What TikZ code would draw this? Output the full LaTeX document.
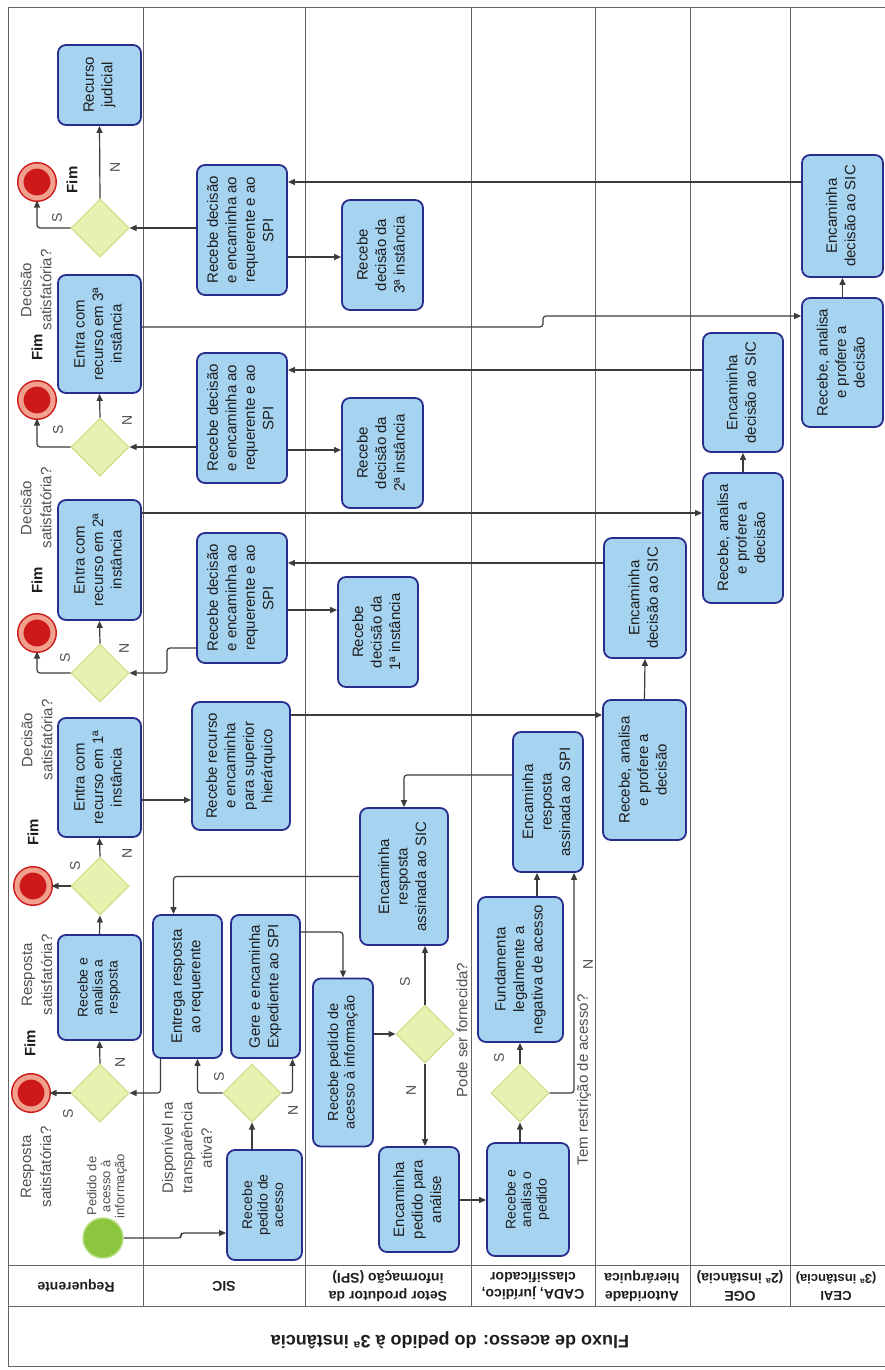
\documentclass[tikz,border=0pt]{standalone}
\usepackage{fontspec}
\setmainfont{Liberation Sans}
\usetikzlibrary{shapes.geometric,arrows.meta}
\definecolor{azulclaro}{RGB}{166,211,240}
\definecolor{azulesc}{RGB}{40,44,140}
\definecolor{amarelo}{RGB}{233,241,176}
\definecolor{amareloesc}{RGB}{205,220,130}
\definecolor{verde}{RGB}{140,198,63}
\definecolor{verdeclaro}{RGB}{185,222,135}
\definecolor{vermelho}{RGB}{205,25,25}
\definecolor{salmao}{RGB}{240,160,140}
\definecolor{cinzalinha}{RGB}{60,60,60}
\definecolor{cinzaraia}{RGB}{100,100,100}
\definecolor{cinzatexto}{RGB}{80,80,80}
\definecolor{preto}{RGB}{30,30,30}

\newcommand{\vtxt}[1]{\rotatebox{90}{\begin{tabular}{@{}c@{}}#1\end{tabular}}}

\tikzset{
  fs/.style 2 args={font=\fontsize{#1}{#2}\selectfont},
  task/.style={draw=azulesc, fill=azulclaro, line width=1.8pt, rounded corners=8pt,
    inner sep=0pt, text=preto, fs={15}{18.5}},
  gw/.style={diamond, aspect=1, minimum width=58pt, minimum height=58pt, inner sep=0pt,
    fill=amarelo, draw=amareloesc, line width=1pt},
  inicio/.style={circle, minimum size=40pt, inner sep=0pt, fill=verde, draw=verdeclaro, line width=1.5pt},
  fim/.style={circle, minimum size=32pt, inner sep=0pt, fill=vermelho, draw=salmao, line width=5pt,
    preaction={draw=vermelho, line width=8pt}},
  fluxo/.style={draw=cinzalinha, line width=1.2pt, rounded corners=3pt, -{Triangle[length=7pt,width=6pt]}},
  raia/.style={draw=cinzaraia, line width=1pt},
  rotulo/.style={rotate=90, align=center, text=cinzatexto, fs={15}{20}},
  sn/.style={rotate=90, text=cinzatexto, fs={14}{16}},
  fimtxt/.style={rotate=90, text=preto, font=\bfseries\fontsize{15}{17}\selectfont},
  raiatxt/.style={rotate=180, align=center, text=preto, font=\bfseries\fontsize{14}{17.5}\selectfont}
}

\begin{document}
\begin{tikzpicture}[x=1pt,y=-1pt]
  \clip (0,0) rectangle (885,1370);
  \fill[white] (0,0) rectangle (885,1370);

  % raias
  \draw[raia] (8,8) rectangle (910,1366);
  \foreach \xr in {143,305,471,595,690,790}
    \draw[raia] (\xr,8) -- (\xr,1306);
  \draw[raia] (8,1265) -- (910,1265);
  \draw[raia] (8,1306) -- (910,1306);

  \node[raiatxt] at (76,1286) {Requerente};
  \node[raiatxt] at (224,1286) {SIC};
  \node[raiatxt] at (388,1286) {Setor produtor da\\informação (SPI)};
  \node[raiatxt] at (533,1286) {CADA, jurídico,\\classificador};
  \node[raiatxt] at (642,1286) {Autoridade\\hierárquica};
  \node[raiatxt] at (740,1286) {OGE\\(2ª instância)};
  \node[raiatxt, font=\bfseries\fontsize{13}{17.5}\selectfont] at (836,1286) {CEAI\\(3ª instância)};
  \node[rotate=180, text=preto, font=\bfseries\fontsize{18}{21}\selectfont] at (450,1340)
    {Fluxo de acesso: do pedido à 3ª instância};

  % Requerente
  \node[inicio] (ini) at (103,1238) {};
  \node[rotulo, fs={13}{14}] at (107,1186) {Pedido de\\acesso à\\informação};

  \node[gw] (d1) at (100,1093) {};
  \node[fim] (e1) at (31,1093) {};
  \node[fimtxt] at (30,1043) {Fim};
  \node[rotulo] at (36,1167) {Resposta\\satisfatória?};
  \node[sn] at (68,1114) {S};
  \node[sn] at (120,1062) {N};
  \node[task, minimum width=83, minimum height=105, fs={14}{15}] (rea) at (99.5,987.5)
    {\vtxt{Recebe e\\analisa a\\resposta}};

  \node[gw] (d2) at (100,886) {};
  \node[fim] (e2) at (33,886) {};
  \node[fimtxt] at (33,832) {Fim};
  \node[rotulo] at (37,975) {Resposta\\satisfatória?};
  \node[sn] at (75,866) {S};
  \node[sn] at (127,853) {N};
  \node[task, minimum width=83, minimum height=119] (e1a) at (99.5,777.5)
    {\vtxt{Entra com\\recurso em 1ª\\instância}};

  \node[gw] (d3) at (100,673) {};
  \node[fim] (e3) at (37,633) {};
  \node[fimtxt] at (37,580) {Fim};
  \node[rotulo] at (37,740) {Decisão\\satisfatória?};
  \node[sn] at (65,658) {S};
  \node[sn] at (124,648) {N};
  \node[task, minimum width=83, minimum height=120] (e2a) at (99.5,560)
    {\vtxt{Entra com\\recurso em 2ª\\instância}};

  \node[gw] (d4) at (100,447) {};
  \node[fim] (e4) at (37,400) {};
  \node[fimtxt] at (37,347) {Fim};
  \node[rotulo] at (36,508) {Decisão\\satisfatória?};
  \node[sn] at (58,430) {S};
  \node[sn] at (127,420) {N};
  \node[task, minimum width=83, minimum height=118] (e3a) at (99.5,334)
    {\vtxt{Entra com\\recurso em 3ª\\instância}};

  \node[gw] (d5) at (100,228) {};
  \node[fim] (e5) at (37,182) {};
  \node[fimtxt] at (72,180) {Fim};
  \node[rotulo] at (36,290) {Decisão\\satisfatória?};
  \node[sn] at (57,218) {S};
  \node[sn] at (115,167) {N};
  \node[task, minimum width=83, minimum height=80] (rj) at (99.5,85)
    {\vtxt{Recurso\\judicial}};

  % SIC
  \node[task, minimum width=75, minimum height=110, fs={14}{15.5}] (rped) at (264.5,1205)
    {\vtxt{Recebe\\pedido de\\acesso}};
  \node[gw] (dsic) at (252,1093) {};
  \node[rotulo, fs={15}{19.5}] at (187,1148) {Disponível na\\transparência\\ativa?};
  \node[sn] at (219,1077) {S};
  \node[sn] at (293,1110) {N};
  \node[task, minimum width=69, minimum height=143] (entr) at (187.5,986.5)
    {\vtxt{Entrega resposta\\ao requerente}};
  \node[task, minimum width=69, minimum height=143] (gere) at (265.5,986.5)
    {\vtxt{Gere e encaminha\\Expediente ao SPI}};
  \node[task, minimum width=98, minimum height=128] (rrec) at (241,766)
    {\vtxt{Recebe recurso\\e encaminha\\para superior\\hierárquico}};
  \node[task, minimum width=90, minimum height=130] (rd1) at (242,598)
    {\vtxt{Recebe decisão\\e encaminha ao\\requerente e ao\\SPI}};
  \node[task, minimum width=90, minimum height=130] (rd2) at (242,418)
    {\vtxt{Recebe decisão\\e encaminha ao\\requerente e ao\\SPI}};
  \node[task, minimum width=90, minimum height=130] (rd3) at (242,230)
    {\vtxt{Recebe decisão\\e encaminha ao\\requerente e ao\\SPI}};

  % SPI
  \node[task, minimum width=60, minimum height=168, fs={14.5}{16.5}] (spi1) at (343,1062.5)
    {\vtxt{Recebe pedido de\\acesso à informação}};
  \node[gw] (dspi) at (425,1034) {};
  \node[rotulo] at (462,1030) {Pode ser fornecida?};
  \node[sn] at (405,982) {S};
  \node[sn] at (411,1090) {N};
  \node[task, minimum width=88, minimum height=137] (spi2) at (404,876.5)
    {\vtxt{Encaminha\\resposta\\assinada ao SIC}};
  \node[task, minimum width=80, minimum height=105] (spi3) at (419,1199.5)
    {\vtxt{Encaminha\\pedido para\\análise}};
  \node[task, minimum width=80, minimum height=110] (sd1) at (378,632)
    {\vtxt{Recebe\\decisão da\\1ª instância}};
  \node[task, minimum width=81, minimum height=110] (sd2) at (382.5,453)
    {\vtxt{Recebe\\decisão da\\2ª instância}};
  \node[task, minimum width=81, minimum height=110] (sd3) at (382.5,255)
    {\vtxt{Recebe\\decisão da\\3ª instância}};

  % CADA
  \node[task, minimum width=82, minimum height=113, fs={14}{15.5}] (cada1) at (528,1199.5)
    {\vtxt{Recebe e\\analisa o\\pedido}};
  \node[gw] (dcada) at (520,1093) {};
  \node[rotulo] at (584,1080) {Tem restrição de acesso?};
  \node[sn] at (499,1058) {S};
  \node[sn] at (588,964) {N};
  \node[task, minimum width=85, minimum height=145] (cada2) at (520.5,969.5)
    {\vtxt{Fundamenta\\legalmente a\\negativa de acesso}};
  \node[task, minimum width=70, minimum height=140] (cada3) at (548,802)
    {\vtxt{Encaminha\\resposta\\assinada ao SPI}};

  % Autoridade, OGE e CEAI
  \node[task, minimum width=83, minimum height=140] (aut1) at (644.5,770)
    {\vtxt{Recebe, analisa\\e profere a\\decisão}};
  \node[task, minimum width=82, minimum height=120] (aut2) at (645,598)
    {\vtxt{Encaminha\\decisão ao SIC}};
  \node[task, minimum width=80, minimum height=130] (oge1) at (743,538)
    {\vtxt{Recebe, analisa\\e profere a\\decisão}};
  \node[task, minimum width=80, minimum height=119] (oge2) at (743,392.5)
    {\vtxt{Encaminha\\decisão ao SIC}};
  \node[task, minimum width=81, minimum height=129] (ceai1) at (842.5,362.5)
    {\vtxt{Recebe, analisa\\e profere a\\decisão}};
  \node[task, minimum width=81, minimum height=122] (ceai2) at (842.5,216)
    {\vtxt{Encaminha\\decisão ao SIC}};

  % fluxos
  \coordinate (pS) at ([xshift=10pt]entr.south);
  \coordinate (pN) at ([xshift=27pt]gere.south);
  \coordinate (pE) at ([xshift=-27pt]entr.south);
  \coordinate (pR) at ([xshift=-14pt]entr.north);
  \coordinate (pF) at ([xshift=-11pt]cada3.south);
  \coordinate (pT) at ([xshift=26pt]cada3.south);

  \draw[fluxo] (ini.east) -- (181,1238) -- (181,1233) -- (rped.west |- 0,1233);
  \draw[fluxo] (dsic.south |- rped.north) -- (dsic.south);
  \draw[fluxo] (dsic.west) -| (pS);
  \draw[fluxo] (dsic.east) -| (pN);
  \draw[fluxo] (pE) |- (d1.east);
  \draw[fluxo] (d1.west) -- (e1);
  \draw[fluxo] (d1.north) -- (rea.south);
  \draw[fluxo] (rea.north) -- (d2.south);
  \draw[fluxo] (d2.west) -- (e2);
  \draw[fluxo] (d2.north) -- (e1a.south);
  \draw[fluxo] (e1a.east |- 0,800) -- (rrec.west |- 0,800);
  \draw[fluxo] (rrec.east |- 0,715) -- (aut1.west |- 0,715);
  \draw[fluxo] (aut1.north) -- (aut2.south);
  \draw[fluxo] (aut2.west |- 0,563) -- (rd1.east |- 0,563);
  \draw[fluxo] (rd1.west |- 0,648) -- (167,648) |- (d3.east);
  \draw[fluxo] (rd1.east |- 0,610) -- (sd1.west |- 0,610);
  \draw[fluxo] (d3.west) -| (e3.south);
  \draw[fluxo] (d3.north) -- (e2a.south);
  \draw[fluxo] (e2a.east |- 0,513) -- (oge1.west |- 0,513);
  \draw[fluxo] (oge1.north) -- (oge2.south);
  \draw[fluxo] (oge2.west |- 0,370) -- (rd2.east |- 0,370);
  \draw[fluxo] (rd2.west |- d4.east) -- (d4.east);
  \draw[fluxo] (rd2.east |- 0,450) -- (sd2.west |- 0,450);
  \draw[fluxo] (d4.west) -| (e4.south);
  \draw[fluxo] (d4.north) -- (e3a.south);
  \draw[fluxo] (e3a.east |- 0,327) -- (543,327) -- (543,316) -- (ceai1.west |- 0,316);
  \draw[fluxo] (ceai1.north) -- (ceai2.south);
  \draw[fluxo] (ceai2.west |- 0,182) -- (rd3.east |- 0,182);
  \draw[fluxo] (rd3.west |- d5.east) -- (d5.east);
  \draw[fluxo] (rd3.east |- 0,257) -- (sd3.west |- 0,257);
  \draw[fluxo] (d5.west) -| (e5.south);
  \draw[fluxo] (d5.north) -- (rj.south);
  \draw[fluxo] (gere.east |- 0,932) -| (spi1.north);
  \draw[fluxo] (spi1.east |- dspi.west) -- (dspi.west);
  \draw[fluxo] (dspi.north) -- (dspi.north |- spi2.south);
  \draw[fluxo] (spi2.west) -| (pR);
  \draw[fluxo] (dspi.south) -- (dspi.south |- spi3.north);
  \draw[fluxo] (spi3.east |- 0,1200) -- (cada1.west |- 0,1200);
  \draw[fluxo] (dcada.south |- cada1.north) -- (dcada.south);
  \draw[fluxo] (dcada.north) -- (dcada.north |- cada2.south);
  \draw[fluxo] (dcada.east) -| (pT);
  \draw[fluxo] (pF |- cada2.north) -- (pF);
  \draw[fluxo] (cada3.west |- 0,775) -| (spi2.north);
\end{tikzpicture}
\end{document}
